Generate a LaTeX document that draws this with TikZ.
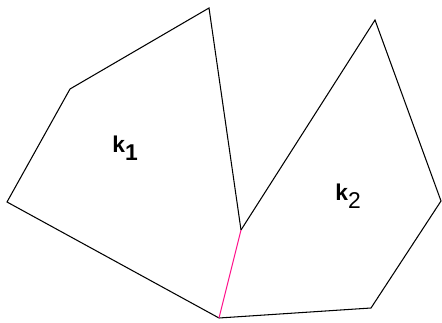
\documentclass[tikz,border=0pt]{standalone}
\usepackage{fontspec}
\setmainfont{Liberation Sans}
\definecolor{kante}{RGB}{255,20,140}
\begin{document}
\begin{tikzpicture}[x=0.02cm,y=-0.02cm,line width=0.6pt]
	
	\useasboundingbox (0,0) rectangle (442,323);
	
	% Punkte
	\coordinate (A) at (7,202);
	\coordinate (B) at (70,89);
	\coordinate (C) at (209,8);
	\coordinate (D) at (241,230);
	\coordinate (E) at (219,318);
	\coordinate (F) at (375,20);
	\coordinate (G) at (441,201);
	\coordinate (H) at (371,308);
	
	% Zelle k1
	\draw (D) -- (C) -- (B) -- (A) -- (E);
	% Zelle k2
	\draw (D) -- (F) -- (G) -- (H) -- (E);
	% gemeinsame Kante
	\draw[kante] (D) -- (E);
	
	% Beschriftung
	\node[font=\fontsize{13}{13}\selectfont] (k1) at (125,148) {\textbf{k}\raisebox{-4.5pt}{\textbf{1}}};
	\node[font=\fontsize{13}{13}\selectfont] (k2) at (348,196) {\textbf{k}\raisebox{-4.5pt}{2}};
	
\end{tikzpicture}
\end{document}
